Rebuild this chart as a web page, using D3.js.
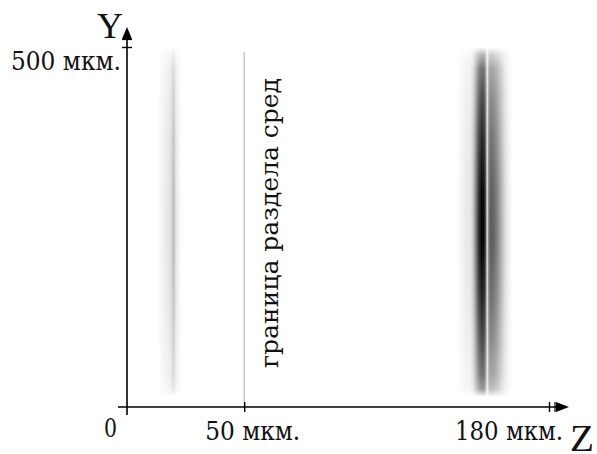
<!DOCTYPE html>
<html>
<head>
<meta charset="utf-8">
<script src="https://cdn.jsdelivr.net/npm/d3@7"></script>
<style>
  body { margin: 0; background: #fff; }
  svg text { font-family: "DejaVu Serif", "Liberation Serif", serif; fill: #111; }
</style>
</head>
<body>
<div id="chart"></div>
<script>
// distances along Z (µm) and along Y (µm)
const zTicks = [50, 180];
const zTickLabels = ["50 мкм.", "180 мкм."];
const yTicks = [500];
const yTickLabels = ["500 мкм."];
const boundaryZ = 50;
const boundaryLabel = "граница раздела сред";

// horizontal intensity profile (darkness 0..1) across each fringe band
const faintZ = [13, 15, 16.5, 17.5, 18.5, 19.3, 19.8, 20.3, 21, 22, 23.5];
const faintD = [0, 0.05, 0.08, 0.1, 0.13, 0.2, 0.27, 0.2, 0.1, 0.05, 0];
const darkZ = [140.5, 142.5, 144.5, 146.5, 147.8, 149, 150.2, 151.3, 152.2, 153.0, 153.6, 154.1, 154.7, 155.5, 156.5, 157.6, 158.8, 160, 161.3, 163, 164.5];
const darkD = [0, 0.04, 0.08, 0.1, 0.25, 0.55, 0.85, 1.0, 0.97, 0.7, 0.08, 0.4, 0.62, 0.64, 0.6, 0.52, 0.4, 0.27, 0.14, 0.05, 0];

// vertical envelope of both bands
const envY = [14, 25, 45, 90, 160, 235, 300, 370, 430, 470, 490, 500];
const envV = [0, 0.4, 0.55, 0.7, 0.88, 1.0, 0.97, 0.85, 0.7, 0.55, 0.28, 0];

const W = 597, H = 454;
const x = d3.scaleLinear().domain([0, 180]).range([127, 549]);
const y = d3.scaleLinear().domain([0, 500]).range([407, 47]);

const svg = d3.select("#chart").append("svg")
  .attr("width", W).attr("height", H);
const defs = svg.append("defs");

// vertical envelope as a mask
const envGrad = defs.append("linearGradient")
  .attr("id", "env").attr("x1", 0).attr("x2", 0).attr("y1", 1).attr("y2", 0);
envGrad.selectAll("stop").data(envY).join("stop")
  .attr("offset", (d) => (d - envY[0]) / (envY[envY.length - 1] - envY[0]))
  .attr("stop-color", "#fff")
  .attr("stop-opacity", (d, i) => envV[i]);
defs.append("mask").attr("id", "envMask")
  .attr("maskContentUnits", "objectBoundingBox")
  .append("rect").attr("width", 1).attr("height", 1).attr("fill", "url(#env)");

const bands = [
  { id: "faint", zs: faintZ, ds: faintD },
  { id: "dark", zs: darkZ, ds: darkD }
];

bands.forEach(b => {
  const z0 = b.zs[0], z1 = b.zs[b.zs.length - 1];
  const g = defs.append("linearGradient").attr("id", "g_" + b.id);
  g.selectAll("stop").data(b.zs).join("stop")
    .attr("offset", d => (x(d) - x(z0)) / (x(z1) - x(z0)))
    .attr("stop-color", "#000")
    .attr("stop-opacity", (d, i) => b.ds[i]);

  svg.append("g").attr("mask", "url(#envMask)")
    .append("rect")
    .attr("x", x(z0))
    .attr("width", x(z1) - x(z0))
    .attr("y", y(envY[envY.length - 1]))
    .attr("height", y(envY[0]) - y(envY[envY.length - 1]))
    .attr("fill", `url(#g_${b.id})`);
});

// boundary between media
svg.append("line")
  .attr("x1", x(boundaryZ)).attr("x2", x(boundaryZ))
  .attr("y1", 52).attr("y2", y(0))
  .attr("stroke", "#c8c8c8").attr("stroke-width", 1.5);

svg.append("text")
  .attr("transform", `translate(${x(boundaryZ) + 34},368) rotate(-90)`)
  .style("font-size", "24px")
  .attr("textLength", 290)
  .attr("lengthAdjust", "spacingAndGlyphs")
  .text(boundaryLabel);

// axes
const axisColor = "#000";
svg.append("line")
  .attr("x1", 118).attr("x2", 560).attr("y1", y(0)).attr("y2", y(0))
  .attr("stroke", axisColor).attr("stroke-width", 1.6);
svg.append("line")
  .attr("x1", x(0)).attr("x2", x(0)).attr("y1", 415).attr("y2", 36)
  .attr("stroke", axisColor).attr("stroke-width", 1.6);

// arrowheads
svg.append("path")
  .attr("d", `M${x(0) - 5},39 L${x(0)},27 L${x(0) + 5},39 Z`).attr("fill", axisColor);
svg.append("line")
  .attr("x1", x(0) - 5).attr("x2", x(0) + 5).attr("y1", 39.5).attr("y2", 39.5)
  .attr("stroke", axisColor).attr("stroke-width", 1.2);
svg.append("path")
  .attr("d", `M556,${y(0) - 5} L569,${y(0)} L556,${y(0) + 5} Z`).attr("fill", axisColor);
svg.append("line")
  .attr("x1", 555).attr("x2", 555).attr("y1", y(0) - 5).attr("y2", y(0) + 5)
  .attr("stroke", axisColor).attr("stroke-width", 1.2);

// Z ticks
const zAxis = svg.append("g")
  .attr("transform", `translate(0,${y(0)})`)
  .call(d3.axisBottom(x).tickValues(zTicks).tickSize(5).tickFormat(""));
zAxis.select(".domain").remove();
zAxis.selectAll(".tick line").attr("y1", -5).attr("y2", 5).attr("stroke", axisColor).attr("stroke-width", 1.4);

// Y ticks
const yAxis = svg.append("g")
  .attr("transform", `translate(${x(0)},0)`)
  .call(d3.axisLeft(y).tickValues(yTicks).tickSize(5).tickFormat(""));
yAxis.select(".domain").remove();
yAxis.selectAll(".tick line").attr("x1", -5).attr("x2", 5).attr("stroke", axisColor).attr("stroke-width", 1.4);

// tick labels
const zLabelShift = { 50: -39, 180: -94 };
const zLabelLen = { 50: 95, 180: 108 };
svg.selectAll(".zlab").data(zTicks).join("text")
  .attr("class", "zlab")
  .attr("x", d => x(d) + zLabelShift[d])
  .attr("y", 440)
  .style("font-size", "26px")
  .attr("textLength", d => zLabelLen[d])
  .attr("lengthAdjust", "spacingAndGlyphs")
  .text((d, i) => zTickLabels[i]);

svg.append("text")
  .attr("x", 104).attr("y", 437)
  .style("font-size", "26px")
  .attr("textLength", 13)
  .attr("lengthAdjust", "spacingAndGlyphs")
  .text("0");

svg.selectAll(".ylab").data(yTicks).join("text")
  .attr("class", "ylab")
  .attr("x", 11)
  .attr("y", d => y(d) + 23)
  .style("font-size", "26px")
  .attr("textLength", 110)
  .attr("lengthAdjust", "spacingAndGlyphs")
  .text((d, i) => yTickLabels[i]);

// axis names
svg.append("text").attr("x", 97).attr("y", 38)
  .style("font-family", "'Liberation Serif', serif")
  .style("font-size", "36px").text("Y");
svg.append("text").attr("x", 570).attr("y", 451)
  .style("font-family", "'Liberation Serif', serif")
  .style("font-size", "38px")
  .attr("textLength", 24)
  .attr("lengthAdjust", "spacingAndGlyphs")
  .text("Z");
</script>
</body>
</html>
